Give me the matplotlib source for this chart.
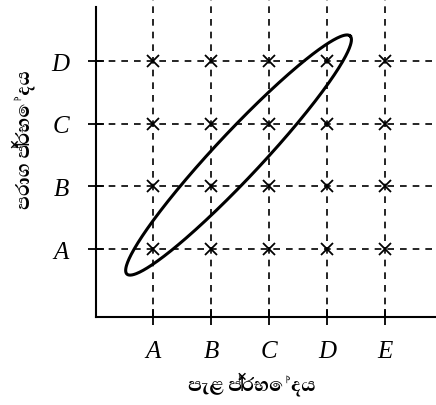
import numpy as np
import matplotlib
matplotlib.use("Agg")
import matplotlib.pyplot as plt

# Varieties on each axis
plant_varieties = ["A", "B", "C", "D", "E"]
pollen_varieties = ["A", "B", "C", "D"]
x_label = "පැළ ප්‍රභේදය"
y_label = "පරාග ප්‍රභේදය"

# Incompatible group: ellipse drawn along the diagonal between these corners
ellipse_start = (0.55, 0.60)
ellipse_end = (4.40, 4.40)
ellipse_half_width_px = 23

W, H, DPI = 436, 406, 100
fig = plt.figure(figsize=(W / DPI, H / DPI), dpi=DPI)
ax = fig.add_axes([96 / W, (H - 318) / H, 1 - 96 / W, 318 / H])

xs = np.arange(1, len(plant_varieties) + 1)
ys = np.arange(1, len(pollen_varieties) + 1)

ax.set_xlim(0.017, 5.88)
ax.set_ylim(-0.085, 4.99)

dash = dict(color="black", lw=1.2, dashes=(4.0, 3.6))
for x in xs:
    ax.axvline(x, **dash)
for y in ys:
    ax.axhline(y, **dash)

gx, gy = np.meshgrid(xs, ys)
ax.plot(gx.ravel(), gy.ravel(), "x", color="black", ms=9, mew=1.3, ls="none")

for s in ["top", "right"]:
    ax.spines[s].set_visible(False)
for s in ["left", "bottom"]:
    ax.spines[s].set_linewidth(1.5)
ax.spines["left"].set_bounds(-0.085, 4.86)

ax.set_xticks(xs)
ax.set_xticklabels(plant_varieties)
ax.set_yticks(ys)
ax.set_yticklabels(pollen_varieties)
ax.tick_params(direction="inout", length=11, width=1.3)
for lab in ax.get_xticklabels() + ax.get_yticklabels():
    lab.set_fontfamily("Liberation Serif")
    lab.set_fontstyle("italic")
    lab.set_fontsize(18)
ax.tick_params(axis="x", pad=11)
ax.tick_params(axis="y", pad=14)

# Ellipse computed in display space so it stays a true ellipse on screen
fig.canvas.draw()
p0 = ax.transData.transform(ellipse_start)
p1 = ax.transData.transform(ellipse_end)
c = (p0 + p1) / 2
a = np.linalg.norm(p1 - p0) / 2
u = (p1 - p0) / (2 * a)
v = np.array([-u[1], u[0]])
t = np.linspace(0, 2 * np.pi, 400)
pts = c + np.outer(a * np.cos(t), u) + np.outer(ellipse_half_width_px * np.sin(t), v)
dpts = ax.transData.inverted().transform(pts)
ax.plot(dpts[:, 0], dpts[:, 1], color="black", lw=2.2)

label_font = ["Abhaya Libre", "Noto Sans Sinhala", "DejaVu Sans"]
fig.text(252 / W, 1 - 384 / H, x_label, ha="center", va="center",
         fontsize=17, fontweight="heavy", family=label_font)
fig.text(23 / W, 1 - 140 / H, y_label, ha="center", va="center",
         rotation=90, fontsize=17, fontweight="heavy", family=label_font)

fig.savefig("out.png", dpi=DPI)
